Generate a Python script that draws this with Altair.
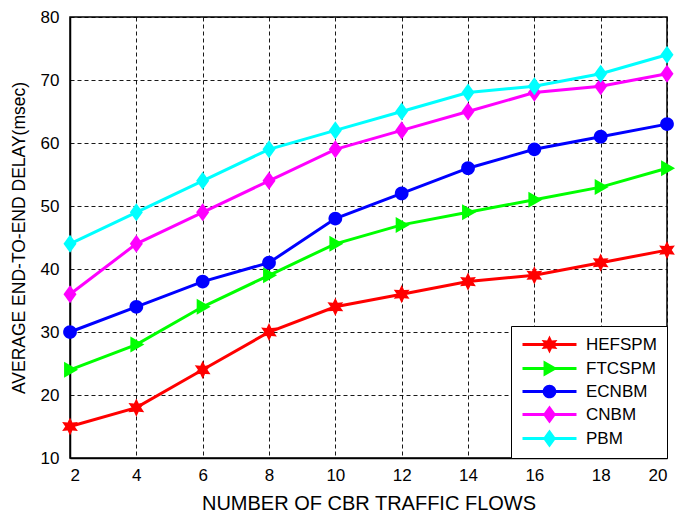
import math
import altair as alt
import pandas as pd

# ---- data ----
flows = [2, 4, 6, 8, 10, 12, 14, 16, 18, 20]
hefspm = [15, 18, 24, 30, 34, 36, 38, 39, 41, 43]
ftcspm = [24, 28, 34, 39, 44, 47, 49, 51, 53, 56]
ecnbm = [30, 34, 38, 41, 48, 52, 56, 59, 61, 63]
cnbm = [36, 44, 49, 54, 59, 62, 65, 68, 69, 71]
pbm = [44, 49, 54, 59, 62, 65, 68, 69, 71, 74]
series_names = ["HEFSPM", "FTCSPM", "ECNBM", "CNBM", "PBM"]
series_values = [hefspm, ftcspm, ecnbm, cnbm, pbm]
colors = ["#FF0000", "#00FF00", "#0000FF", "#FF00FF", "#00FFFF"]
x_ticks = [2, 4, 6, 8, 10, 12, 14, 16, 18, 20]
y_ticks = [10, 20, 30, 40, 50, 60, 70, 80]

rows = []
for name, vals in zip(series_names, series_values):
    for f, v in zip(flows, vals):
        rows.append({"flows": f, "delay": v, "series": name})
df = pd.DataFrame(rows)


# ---- marker shapes (custom SVG paths, unit = sqrt(size)/2) ----
def p(x, y):
    return f"{x:.3f},{y:.3f}"


def star(cx, R=1.3, r=0.68):
    pts = []
    for k in range(12):
        a = math.radians(-90 + k * 30)
        rad = R if k % 2 == 0 else r
        pts.append(p(cx + rad * math.cos(a), rad * math.sin(a)))
    return "M" + "L".join(pts) + "Z"


def tri(cx):
    return f"M{p(cx-0.85,-1.14)}L{p(cx+1.15,0)}L{p(cx-0.85,1.14)}Z"


def circ(cx, r=0.98):
    return (f"M{p(cx-r,0)}A{r},{r} 0 1,1 {p(cx+r,0)}"
            f"A{r},{r} 0 1,1 {p(cx-r,0)}Z")


def diam(cx):
    return f"M{p(cx,-1.29)}L{p(cx+0.93,0)}L{p(cx,1.29)}L{p(cx-0.93,0)}Z"


makers = [star, tri, circ, diam, diam]
point_shapes = [m(0) for m in makers]

# legend symbol: line segment with marker in the middle
L0, L1, LW = -1.0, 6.714, 0.22
LC = (L0 + L1) / 2
line_path = f"M{p(L0,-LW)}L{p(L1,-LW)}L{p(L1,LW)}L{p(L0,LW)}Z"
legend_shapes = [line_path + m(LC) for m in makers]

FONT = "Liberation Sans"
W, H = 597, 441

x_enc = alt.X("flows:Q",
              scale=alt.Scale(domain=[2, 20], nice=False, zero=False),
              axis=alt.Axis(values=x_ticks, title="NUMBER OF CBR TRAFFIC FLOWS",
                            labelPadding=9, titleY=45, titleBaseline="middle",
                            titleFontSize=20))
y_enc = alt.Y("delay:Q",
              scale=alt.Scale(domain=[10, 80], nice=False, zero=False),
              axis=alt.Axis(values=y_ticks, title="AVERAGE END-TO-END DELAY(msec)",
                            labelPadding=11, titleX=-51, titleY=H / 2,
                            titleBaseline="middle", titleAlign="center",
                            titleFontSize=17.5))

base = alt.Chart(df)

lines = base.mark_line(strokeWidth=3).encode(
    x=x_enc, y=y_enc,
    color=alt.Color("series:N", scale=alt.Scale(domain=series_names, range=colors),
                    legend=None),
    detail="series:N",
)

points = base.mark_point(filled=True, size=196, opacity=1, strokeWidth=0).encode(
    x=x_enc, y=y_enc,
    color=alt.Color("series:N", scale=alt.Scale(domain=series_names, range=colors),
                    legend=None),
    shape=alt.Shape("series:N", scale=alt.Scale(domain=series_names, range=point_shapes),
                    legend=None),
)

leg = alt.Legend(title=None, orient="bottom-right", offset=0,
                 strokeColor="black", fillColor="white", padding=10,
                 symbolSize=196, symbolStrokeWidth=0, labelOffset=48,
                 labelFont=FONT, labelFontSize=17, labelColor="black",
                 rowPadding=5, cornerRadius=0)

legend_layer = base.mark_point(filled=True, size=196, opacity=1, strokeWidth=0).encode(
    x=x_enc, y=y_enc,
    color=alt.Color("series:N", scale=alt.Scale(domain=series_names, range=colors),
                    legend=leg, sort=series_names),
    shape=alt.Shape("series:N", scale=alt.Scale(domain=series_names, range=legend_shapes),
                    legend=leg, sort=series_names),
).transform_filter("datum.flows < 0")

chart = alt.layer(lines, points, legend_layer).resolve_scale(
    color="independent", shape="independent"
).properties(
    width=W, height=H,
    autosize=alt.AutoSizeParams(type="none"),
    padding={"left": 62, "top": 9, "right": 10, "bottom": 55},
    background="white",
).configure_view(
    stroke="black", strokeWidth=1.5
).configure_axis(
    grid=True, gridColor="black", gridDash=[4, 3], gridWidth=1, gridOpacity=0.9,
    domainColor="black", domainWidth=1.5, ticks=False,
    labelFont=FONT, labelFontSize=17, labelColor="black",
    titleFont=FONT, titleFontWeight="normal", titleColor="black",
)

chart.save("out.html", embed_options={"renderer": "svg", "actions": False})
